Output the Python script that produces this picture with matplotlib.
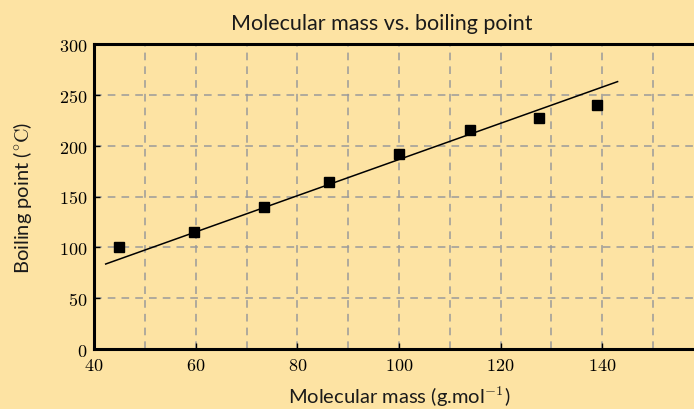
import matplotlib
matplotlib.use("Agg")
import matplotlib.pyplot as plt
from matplotlib.ticker import MultipleLocator, FuncFormatter

# Measured molecular masses and boiling points
mass = [45, 59.6, 73.5, 86.3, 100, 113.9, 127.5, 139]
boiling = [100, 115, 140, 164, 192, 215, 227, 240]

# Trend line end points
trend_x = [42.3, 143]
trend_y = [83.6, 263]

x_ticks = [40, 60, 80, 100, 120, 140]
y_ticks = [0, 50, 100, 150, 200, 250, 300]

bg = "#FDE3A3"
plt.rcParams["mathtext.fontset"] = "cm"

fig = plt.figure(figsize=(6.94, 4.10), dpi=100, facecolor=bg)
ax = fig.add_axes([94 / 694, 60 / 410, 610 / 694, 305 / 410], facecolor=bg)

ax.plot(trend_x, trend_y, color="black", lw=1.1, zorder=3)
ax.plot(mass, boiling, ls="none", marker="s", ms=7.5, color="black", zorder=4)

ax.set_xlim(40, 160)
ax.set_ylim(0, 300)
ax.set_xticks(x_ticks)
ax.set_yticks(y_ticks)
ax.xaxis.set_minor_locator(MultipleLocator(10))
fmt = FuncFormatter(lambda v, p: rf"${int(v)}$")
ax.xaxis.set_major_formatter(fmt)
ax.yaxis.set_major_formatter(fmt)

ax.grid(which="both", color="#9a9a9a", lw=1.1, ls=(0, (5, 4)), zorder=1)
ax.tick_params(which="major", direction="in", length=4, width=1, labelsize=13, pad=5)
ax.tick_params(which="minor", length=0)

for side in ("left", "bottom", "top"):
    ax.spines[side].set_linewidth(2.2)
ax.spines["right"].set_visible(False)

label_font = dict(family="Lato", size=14.5, color="#1a1a1a")
ax.set_title("Molecular mass vs. boiling point", fontdict=dict(family="Lato", size=15.5, color="#1a1a1a"),
             x=0.472, pad=11)
ax.set_xlabel(r"Molecular mass (g.mol$^{-1}$)", fontdict=label_font, labelpad=7)
ax.set_ylabel(r"Boiling point ($\mathrm{{}^{\circ}C}$)", fontdict=label_font, labelpad=18)

fig.savefig("out.png", dpi=100, facecolor=bg)
